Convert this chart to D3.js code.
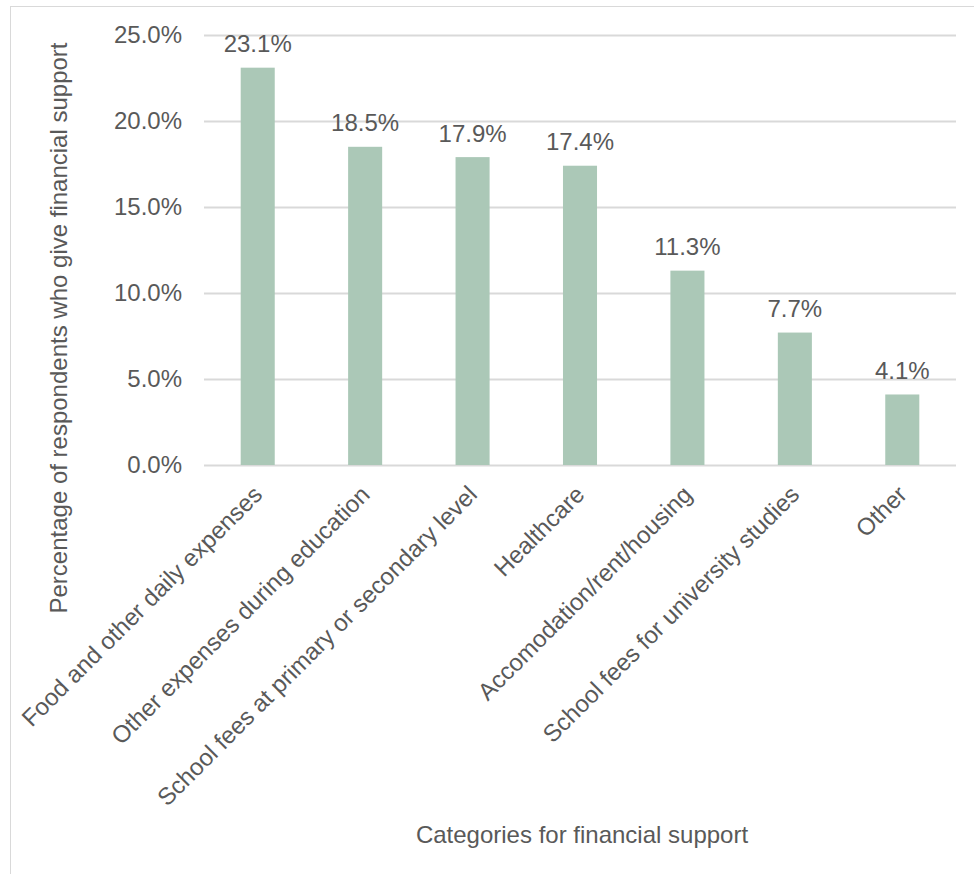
<!DOCTYPE html>
<html>
<head>
<meta charset="utf-8">
<script src="https://cdn.jsdelivr.net/npm/d3@7"></script>
<style>
  html, body { margin: 0; padding: 0; background: #fff; }
  svg { display: block; font-family: "Liberation Sans", Arial, sans-serif; }
</style>
</head>
<body>
<svg id="chart" width="974" height="874"></svg>
<script>
// Share of respondents per category of financial support
const categories = [
  "Food and other daily expenses",
  "Other expenses during education",
  "School fees at primary or secondary level",
  "Healthcare",
  "Accomodation/rent/housing",
  "School fees for university studies",
  "Other"
];
const values = [23.1, 18.5, 17.9, 17.4, 11.3, 7.7, 4.1];
const yTicks = [0, 5, 10, 15, 20, 25];
const yTitle = "Percentage of respondents who give financial support";
const xTitle = "Categories for financial support";

const W = 974, H = 874;
const margin = { left: 204, right: 18, top: 35, bottom: 409 };
const textColor = "#595959";
const gridColor = "#d9d9d9";
const barColor = "#abc8b7";
const fontSize = 24;

const svg = d3.select("#chart");

// chart frame
svg.append("rect")
  .attr("x", 10.5).attr("y", 6.5)
  .attr("width", W).attr("height", H)
  .attr("fill", "none").attr("stroke", gridColor).attr("stroke-width", 1);

const x = d3.scaleBand()
  .domain(categories)
  .range([margin.left, W - margin.right])
  .paddingInner(0.683).paddingOuter(0.3415);

const y = d3.scaleLinear()
  .domain([0, 25])
  .range([H - margin.bottom, margin.top]);

// gridlines and y tick labels
const yAxis = d3.axisLeft(y)
  .tickValues(yTicks)
  .tickSize(-(W - margin.right - margin.left))
  .tickPadding(22)
  .tickFormat(d => d.toFixed(1) + "%");

const gY = svg.append("g")
  .attr("transform", `translate(${margin.left},0)`)
  .call(yAxis);
gY.select(".domain").remove();
gY.selectAll(".tick line").attr("stroke", gridColor).attr("stroke-width", 2);
gY.selectAll(".tick text")
  .attr("fill", textColor)
  .attr("font-size", fontSize)
  .attr("font-family", "Liberation Sans, Arial, sans-serif");

// bars
svg.append("g").selectAll("rect")
  .data(values)
  .join("rect")
  .attr("x", (d, i) => x(categories[i]))
  .attr("y", d => y(d))
  .attr("width", x.bandwidth())
  .attr("height", d => y(0) - y(d))
  .attr("fill", barColor);

// value labels
svg.append("g").selectAll("text")
  .data(values)
  .join("text")
  .attr("x", (d, i) => x(categories[i]) + x.bandwidth() / 2)
  .attr("y", d => y(d) - 15.5)
  .attr("text-anchor", "middle")
  .attr("fill", textColor)
  .attr("font-size", fontSize)
  .text(d => d.toFixed(1) + "%");

// rotated category labels
const xAxis = d3.axisBottom(x).tickSize(0).tickPadding(0);
const gX = svg.append("g")
  .attr("transform", `translate(0,${y(0)})`)
  .call(xAxis);
gX.select(".domain").remove();
gX.selectAll(".tick text")
  .attr("fill", textColor)
  .attr("font-size", fontSize)
  .attr("font-family", "Liberation Sans, Arial, sans-serif")
  .attr("text-anchor", "end")
  .attr("dy", null)
  .attr("y", 0)
  .attr("transform", "translate(6,31) rotate(-45)");

// axis titles
svg.append("text")
  .attr("transform", `translate(67,${328}) rotate(-90)`)
  .attr("text-anchor", "middle")
  .attr("fill", textColor)
  .attr("font-size", fontSize)
  .text(yTitle);

svg.append("text")
  .attr("x", 582)
  .attr("y", 843)
  .attr("text-anchor", "middle")
  .attr("fill", textColor)
  .attr("font-size", fontSize)
  .text(xTitle);
</script>
</body>
</html>
